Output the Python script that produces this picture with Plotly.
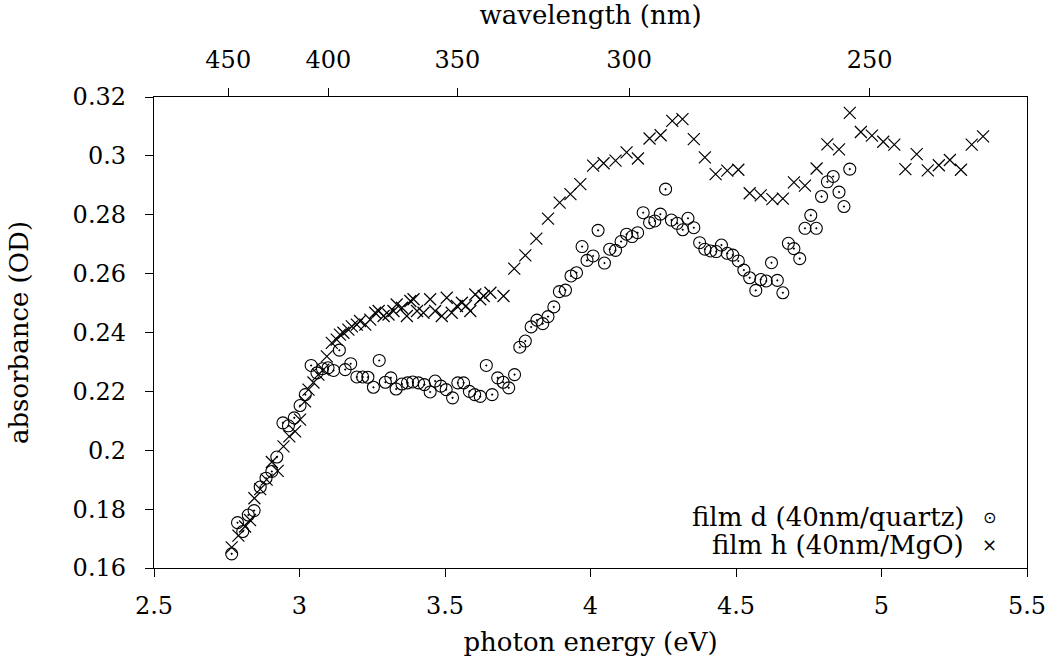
import plotly.graph_objects as go

# film d (40nm/quartz) - circles
film_d_energy = [2.767, 2.787, 2.805, 2.824, 2.844, 2.865, 2.885, 2.905, 2.922, 2.943, 2.962, 2.982,
                 3.002, 3.020, 3.040, 3.060, 3.079, 3.098, 3.117, 3.137, 3.157, 3.176, 3.197, 3.217,
                 3.235, 3.254, 3.274, 3.295, 3.314, 3.332, 3.352, 3.371, 3.389, 3.409, 3.429, 3.449,
                 3.466, 3.486, 3.504, 3.526, 3.544, 3.564, 3.584, 3.602, 3.621, 3.642, 3.662, 3.681,
                 3.700, 3.719, 3.739, 3.757, 3.776, 3.796, 3.816, 3.836, 3.854, 3.874, 3.893, 3.914,
                 3.933, 3.952, 3.971, 3.988, 4.009, 4.026, 4.048, 4.066, 4.086, 4.105, 4.124, 4.143,
                 4.162, 4.181, 4.203, 4.221, 4.240, 4.258, 4.278, 4.298, 4.317, 4.335, 4.355, 4.375,
                 4.393, 4.413, 4.432, 4.450, 4.470, 4.489, 4.508, 4.527, 4.547, 4.568, 4.585, 4.604,
                 4.622, 4.642, 4.661, 4.680, 4.699, 4.719, 4.737, 4.757, 4.776, 4.794, 4.814, 4.834,
                 4.854, 4.871, 4.891]
film_d_abs = [0.1648, 0.1754, 0.1724, 0.1780, 0.1795, 0.1875, 0.1905, 0.1928, 0.1977, 0.2093, 0.2083, 0.2110,
              0.2152, 0.2189, 0.2288, 0.2263, 0.2277, 0.2280, 0.2271, 0.2340, 0.2274, 0.2294, 0.2249, 0.2249,
              0.2248, 0.2214, 0.2305, 0.2231, 0.2246, 0.2208, 0.2225, 0.2229, 0.2232, 0.2229, 0.2223, 0.2198,
              0.2235, 0.2218, 0.2206, 0.2178, 0.2229, 0.2229, 0.2200, 0.2189, 0.2183, 0.2288, 0.2189, 0.2246,
              0.2231, 0.2212, 0.2257, 0.2350, 0.2371, 0.2419, 0.2442, 0.2430, 0.2454, 0.2487, 0.2539, 0.2544,
              0.2592, 0.2603, 0.2692, 0.2645, 0.2660, 0.2747, 0.2636, 0.2683, 0.2679, 0.2709, 0.2734, 0.2726,
              0.2739, 0.2807, 0.2773, 0.2779, 0.2802, 0.2887, 0.2782, 0.2771, 0.2749, 0.2788, 0.2756, 0.2705,
              0.2683, 0.2677, 0.2675, 0.2697, 0.2669, 0.2663, 0.2643, 0.2612, 0.2586, 0.2543, 0.2580, 0.2575,
              0.2637, 0.2577, 0.2535, 0.2703, 0.2685, 0.2651, 0.2754, 0.2798, 0.2754, 0.2862, 0.2912, 0.2930,
              0.2877, 0.2828, 0.2955]

# film h (40nm/MgO) - crosses
film_h_energy = [2.767, 2.790, 2.813, 2.830, 2.845, 2.865, 2.887, 2.905, 2.925, 2.945, 2.965, 2.985,
                 3.002, 3.019, 3.031, 3.048, 3.065, 3.082, 3.094, 3.111, 3.128, 3.139, 3.151, 3.168,
                 3.180, 3.197, 3.208, 3.226, 3.243, 3.260, 3.272, 3.289, 3.306, 3.323, 3.334, 3.352,
                 3.369, 3.381, 3.392, 3.404, 3.426, 3.449, 3.466, 3.489, 3.506, 3.523, 3.541, 3.558,
                 3.572, 3.587, 3.604, 3.621, 3.633, 3.656, 3.701, 3.738, 3.776, 3.814, 3.854, 3.894,
                 3.931, 3.965, 4.009, 4.045, 4.086, 4.124, 4.163, 4.203, 4.241, 4.281, 4.316, 4.355,
                 4.393, 4.430, 4.470, 4.508, 4.547, 4.585, 4.625, 4.661, 4.699, 4.737, 4.777, 4.814,
                 4.854, 4.891, 4.929, 4.967, 5.006, 5.044, 5.082, 5.121, 5.159, 5.197, 5.235, 5.273,
                 5.310, 5.349]
film_h_abs = [0.1670, 0.1710, 0.1741, 0.1763, 0.1837, 0.1868, 0.1900, 0.1960, 0.1930, 0.2013, 0.2047, 0.2064,
              0.2104, 0.2166, 0.2206, 0.2230, 0.2257, 0.2274, 0.2319, 0.2365, 0.2376, 0.2393, 0.2399, 0.2410,
              0.2421, 0.2427, 0.2439, 0.2427, 0.2444, 0.2467, 0.2473, 0.2456, 0.2461, 0.2473, 0.2495, 0.2484,
              0.2456, 0.2507, 0.2513, 0.2473, 0.2467, 0.2513, 0.2473, 0.2456, 0.2518, 0.2467, 0.2490, 0.2501,
              0.2490, 0.2473, 0.2529, 0.2513, 0.2524, 0.2535, 0.2524, 0.2617, 0.2662, 0.2719, 0.2787, 0.2841,
              0.2870, 0.2904, 0.2967, 0.2975, 0.2984, 0.3012, 0.2991, 0.3059, 0.3070, 0.3119, 0.3125, 0.3057,
              0.2995, 0.2938, 0.2950, 0.2953, 0.2873, 0.2866, 0.2853, 0.2855, 0.2910, 0.2899, 0.2957, 0.3039,
              0.3022, 0.3146, 0.3081, 0.3069, 0.3048, 0.3038, 0.2955, 0.3006, 0.2951, 0.2968, 0.2986, 0.2953,
              0.3038, 0.3066]

x_ticks = [2.5, 3, 3.5, 4, 4.5, 5, 5.5]
y_ticks = [0.16, 0.18, 0.2, 0.22, 0.24, 0.26, 0.28, 0.3, 0.32]
wavelength_ticks = [450, 400, 350, 300, 250]
HC = 1239.84  # eV*nm

FONT = "DejaVu Serif"
fs = 24
fs_text = 26

fig = go.Figure()
fig.add_trace(go.Scatter(
    x=film_d_energy, y=film_d_abs, mode="markers", name="film d (40nm/quartz)",
    marker=dict(symbol="circle-open-dot", size=12, color="black", line=dict(width=1.1, color="black")),
    showlegend=False))
fig.add_trace(go.Scatter(
    x=film_h_energy, y=film_h_abs, mode="markers", name="film h (40nm/MgO)",
    marker=dict(symbol="x-thin-open", size=12, color="black", line=dict(width=1.2, color="black")),
    showlegend=False))
# invisible trace to bind the top wavelength axis
fig.add_trace(go.Scatter(
    x=film_h_energy, y=film_h_abs, xaxis="x2", mode="markers",
    marker=dict(opacity=0), hoverinfo="skip", showlegend=False))

axis_common = dict(showgrid=False, zeroline=False, showline=True, linecolor="black", linewidth=1.3,
                   ticks="outside", ticklen=8, tickwidth=1, tickcolor="black", automargin=False,
                   tickfont=dict(family=FONT, size=fs, color="black"))
title_font = dict(family=FONT, size=fs_text, color="black")

fig.update_layout(
    width=1056, height=664,
    margin=dict(l=154, r=29, t=97, b=96),
    paper_bgcolor="white", plot_bgcolor="white",
    xaxis=dict(range=[2.5, 5.5], tickvals=x_ticks, mirror=True, ticklabelstandoff=8,
               title=dict(text="photon energy (eV)", font=title_font, standoff=13),
               **axis_common),
    xaxis2=dict(range=[2.5, 5.5], overlaying="x", side="top", anchor="y", ticklabelstandoff=10,
                tickvals=[HC / w for w in wavelength_ticks], ticktext=[str(w) for w in wavelength_ticks],
                title=dict(text="wavelength (nm)", font=title_font, standoff=18),
                **axis_common),
    yaxis=dict(range=[0.16, 0.32], tickvals=y_ticks, mirror=True, ticklabelstandoff=14,
               title=dict(text="absorbance (OD)", font=title_font, standoff=36),
               **axis_common),
    annotations=[
        dict(text="film d (40nm/quartz)", x=0.930, y=0.108, xref="paper", yref="paper",
             xanchor="right", yanchor="middle", showarrow=False, font=title_font),
        dict(text="film h (40nm/MgO)", x=0.930, y=0.049, xref="paper", yref="paper",
             xanchor="right", yanchor="middle", showarrow=False, font=title_font),
        dict(text="⊙", x=0.9576, y=0.108, xref="paper", yref="paper",
             xanchor="center", yanchor="middle", showarrow=False,
             font=dict(family="DejaVu Sans", size=16, color="black")),
        dict(text="×", x=0.9576, y=0.049, xref="paper", yref="paper",
             xanchor="center", yanchor="middle", showarrow=False,
             font=dict(family="DejaVu Sans", size=18, color="black")),
    ],
)

fig.write_html("out.html")
